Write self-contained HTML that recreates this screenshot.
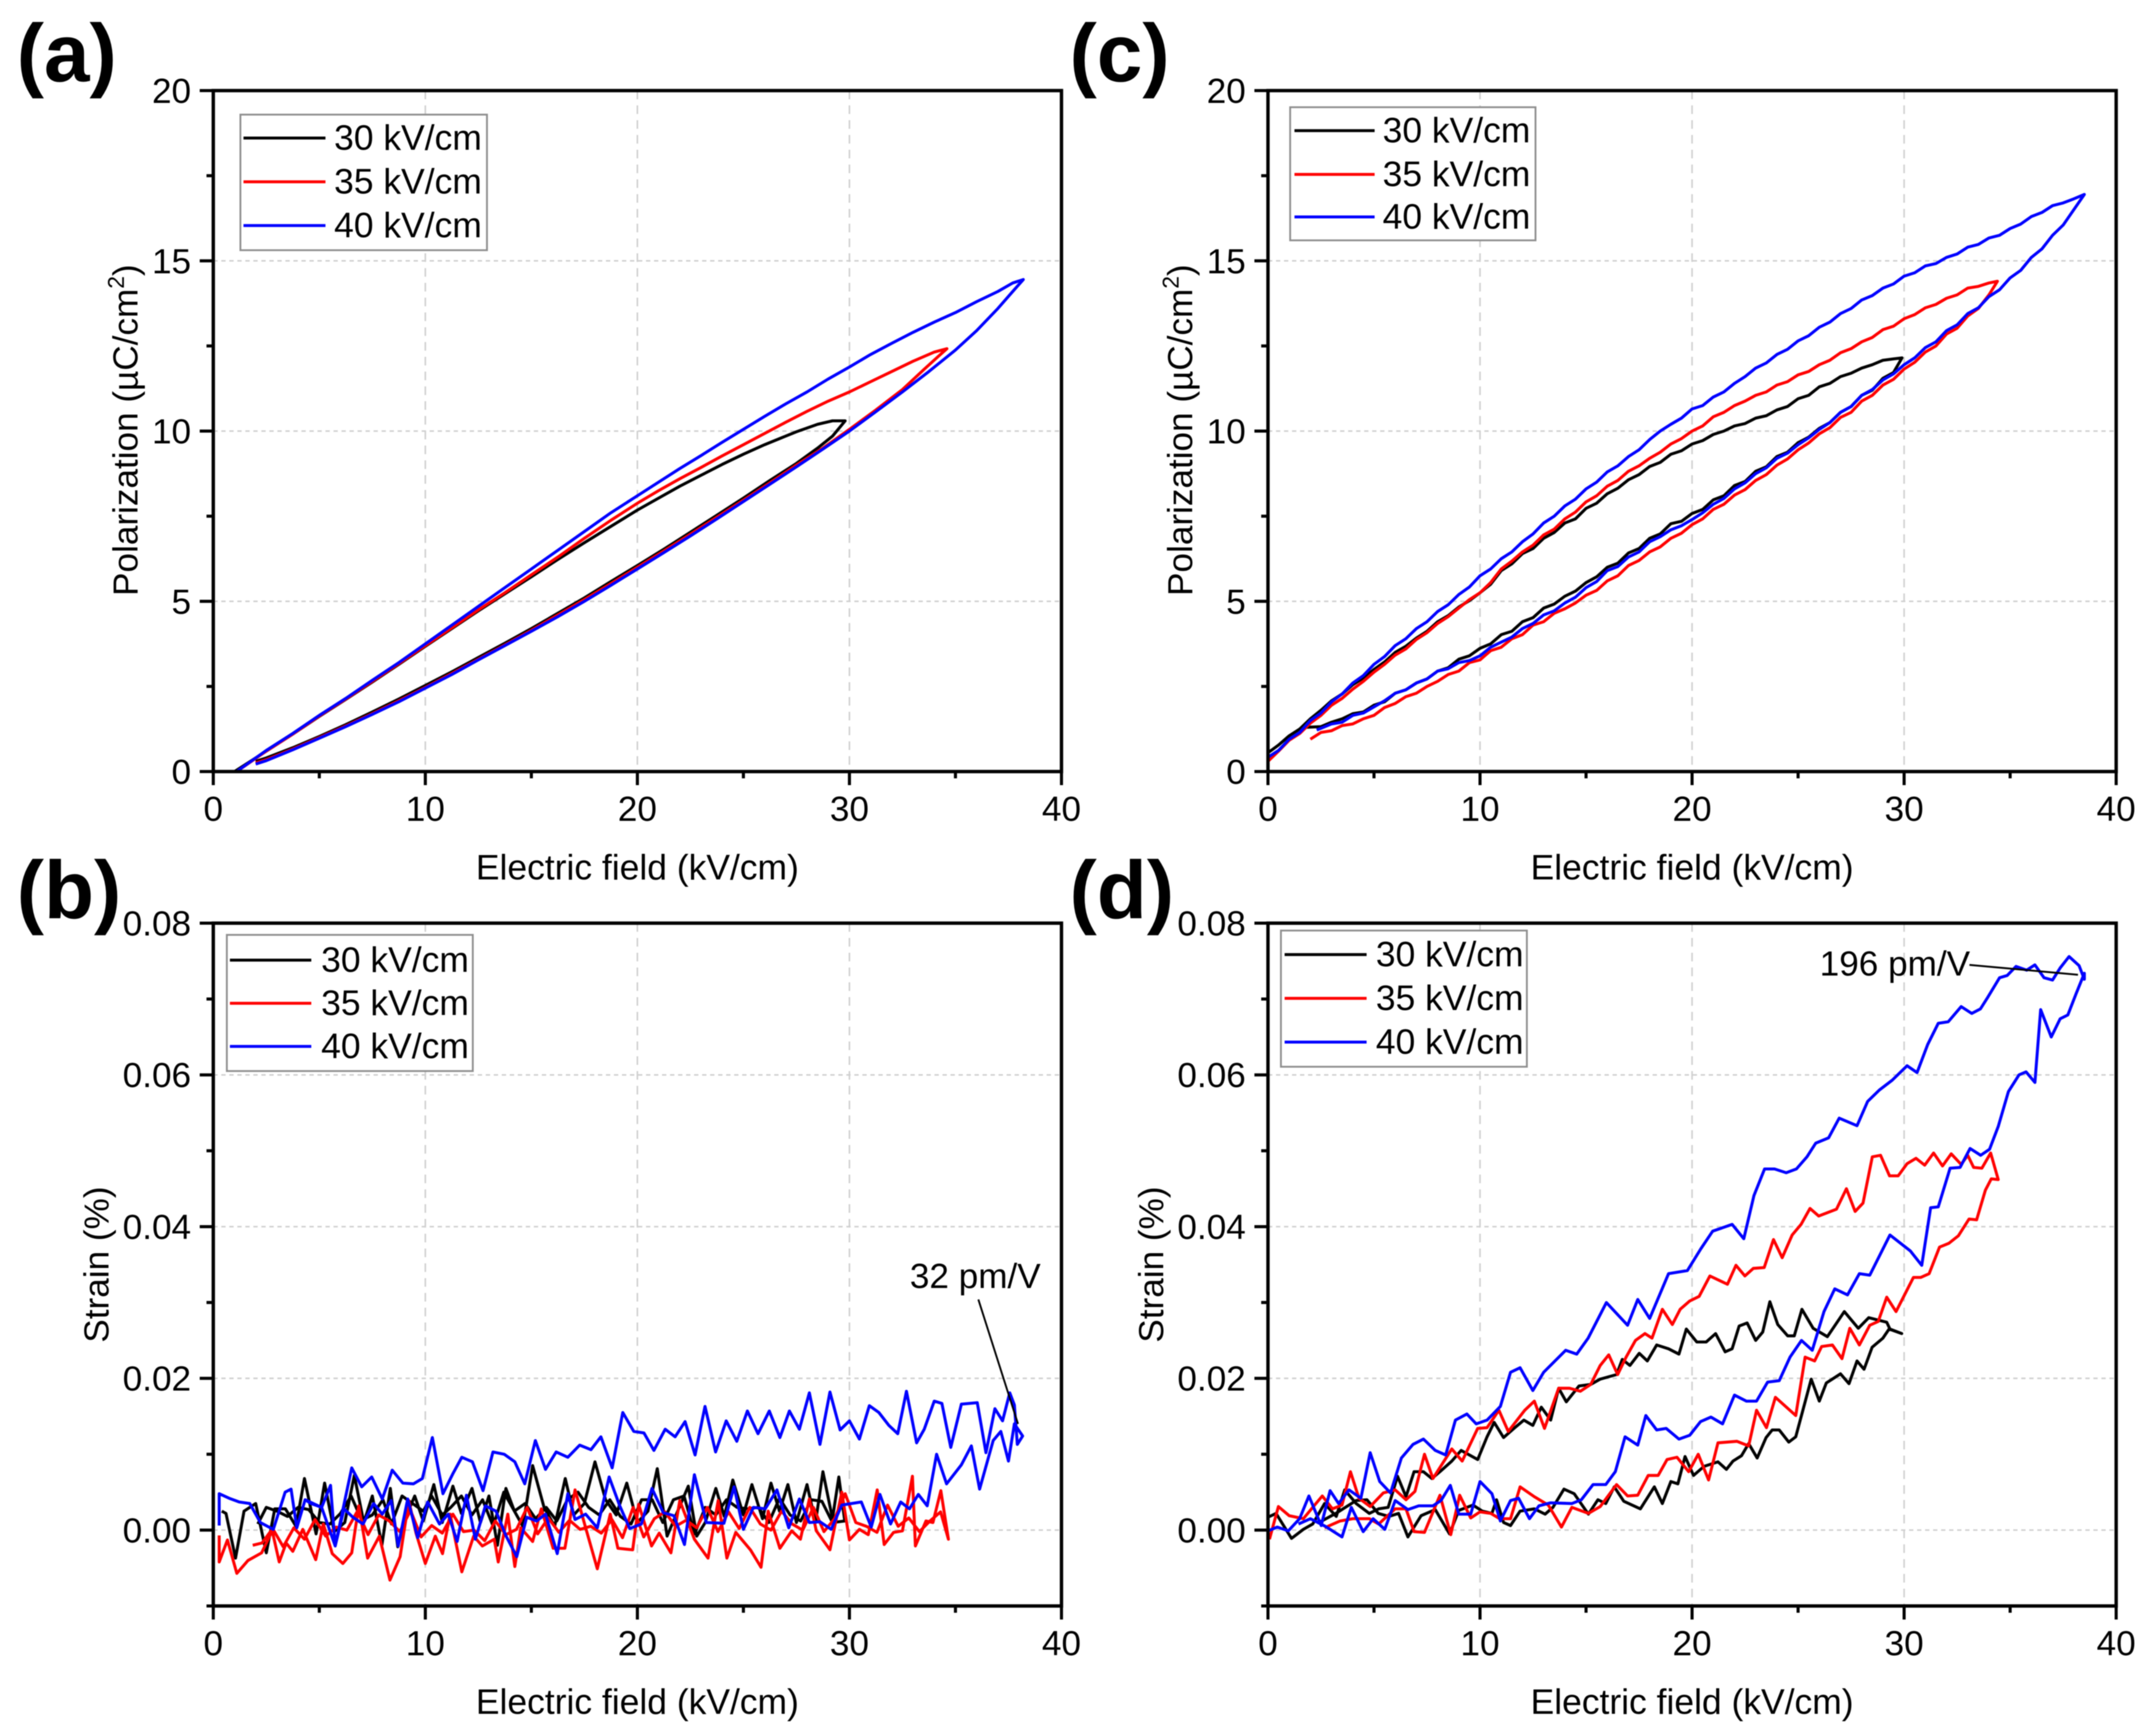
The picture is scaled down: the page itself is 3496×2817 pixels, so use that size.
<!DOCTYPE html>
<html lang="en">
<head>
<meta charset="utf-8">
<title>Polarization and strain versus electric field</title>
<style>
html,body{margin:0;padding:0;background:#fff;}
svg{display:block;filter:blur(0.8px);}
text{font-family:"Liberation Sans",Arial,sans-serif;fill:#000;}
</style>
</head>
<body>
<svg id="figure" xmlns="http://www.w3.org/2000/svg" width="3496" height="2817" viewBox="0 0 3496 2817">
<rect width="3496" height="2817" fill="#fff"/>
</svg>
<script>
/* ---------- shared axis data ---------- */
const fieldMajorTicks = [0,10,20,30,40];
const fieldMinorTicks = [5,15,25,35];
const polMajorTicks = [0,5,10,15,20];
const polMinorTicks = [2.5,7.5,12.5,17.5];
const strainMajorTicks = [0,0.02,0.04,0.06,0.08];
const strainMinorTicks = [-0.01,0.01,0.03,0.05,0.07];
const polTickLabels = ['0','5','10','15','20'];
const strainTickLabels = ['0.00','0.02','0.04','0.06','0.08'];
const fieldTickLabels = ['0','10','20','30','40'];
const legendLabels = ['30 kV/cm','35 kV/cm','40 kV/cm'];

/* ---------- panel (a) ---------- */
const aE30 = [2,2.5,3.75,5,6.25,7.5,8.75,10,11.25,12.5,13.75,15,16.25,17.5,18.75,20,21.25,22.5,23.75,25,26.25,27.5,28.5,29.2,29.8,29.2,28.5,27.5,26,25,24,23,22,21,20,18.75,17.5,16.25,15,13.75,12.5,11.25,10,8.75,7.5,6.25,5,3.75,2.5,1];
const aP30 = [.3,.4,.7,1.03,1.38,1.75,2.13,2.53,2.93,3.35,3.77,4.2,4.65,5.1,5.58,6.05,6.53,7.03,7.53,8.03,8.55,9.05,9.5,9.85,10.3,10.3,10.2,9.98,9.6,9.32,9.02,8.7,8.38,8.03,7.68,7.2,6.72,6.23,5.72,5.22,4.72,4.2,3.68,3.15,2.63,2.12,1.62,1.1,.6,0];
const aE35 = [2,2.5,3.75,5,6.25,7.5,8.75,10,11.25,12.5,13.75,15,16.25,17.5,18.75,20,21.25,22.5,23.75,25,26.25,27.5,28.75,30,31.25,32.5,33.5,34.2,34.6,34,33,32,31,30,29,28,27,26,25,24,23,22,21,20,18.75,17.5,16.25,15,13.75,12.5,11.25,10,8.75,7.5,6.25,5,3.75,2.5,1.1];
const aP35 = [.25,.35,.66,1,1.34,1.7,2.08,2.47,2.88,3.3,3.72,4.15,4.6,5.05,5.52,6,6.48,6.97,7.47,7.97,8.48,9,9.5,10.05,10.62,11.22,11.8,12.2,12.42,12.32,12.05,11.75,11.45,11.15,10.88,10.58,10.26,9.93,9.6,9.27,8.93,8.6,8.25,7.88,7.38,6.85,6.3,5.78,5.25,4.75,4.22,3.7,3.17,2.65,2.13,1.63,1.1,.6,0];
const aE40 = [2,2.5,3.75,5,6.25,7.5,8.75,10,11.25,12.5,13.75,15,16.25,17.5,18.75,20,21.25,22.5,23.75,25,26.25,27.5,28.75,30,31.25,32.5,33.75,35,36,37,37.7,38.2,37.7,37,36,35,34,33,32,31,30,29,28,27,26,25,24,23,22,21,20,18.75,17.5,16.25,15,13.75,12.5,11.25,10,8.75,7.5,6.25,5,3.75,2.5,1.1];
const aP40 = [.22,.32,.64,.98,1.32,1.68,2.05,2.45,2.85,3.28,3.7,4.12,4.55,5,5.47,5.95,6.43,6.92,7.42,7.93,8.44,8.95,9.47,10,10.57,11.15,11.75,12.38,12.95,13.6,14.1,14.45,14.35,14.1,13.8,13.48,13.2,12.9,12.58,12.25,11.88,11.53,11.15,10.8,10.43,10.05,9.67,9.28,8.9,8.5,8.1,7.6,7.05,6.5,5.95,5.4,4.85,4.3,3.75,3.2,2.68,2.15,1.65,1.12,.62,0];

/* ---------- panel (c) ---------- */
const cE30 = [1.8,2.5,3,3.5,4,4.5,5,5.5,6,6.5,7,7.5,8,8.5,9,9.5,10,10.5,11,11.5,12,12.5,13,13.5,14,14.5,15,15.5,16,16.5,17,17.5,18,18.5,19,19.5,20,20.5,21,21.5,22,22.5,23,23.5,24,24.5,25,25.5,26,26.5,27,27.5,28,28.5,29,29.5,29.9,29.5,29,28.5,28,27.5,27,26.5,26,25.5,25,24.5,24,23.5,23,22.5,22,21.5,21,20.5,20,19.5,19,18.5,18,17.5,17,16.5,16,15.5,15,14.5,14,13.5,13,12.5,12,11.5,11,10.5,10,9.5,9,8.5,8,7.5,7,6.5,6,5.5,5,4.5,4,3.5,3,2.5,2,1.5,1,.5,0];
const cP30 = [1.3,1.32,1.45,1.55,1.7,1.75,1.95,2.05,2.3,2.4,2.6,2.72,2.95,3.05,3.3,3.4,3.62,3.75,4.02,4.12,4.4,4.52,4.8,4.92,5.15,5.3,5.55,5.72,6,6.12,6.42,6.55,6.85,6.98,7.28,7.35,7.58,7.7,7.98,8.1,8.4,8.52,8.82,8.95,9.25,9.38,9.66,9.82,10.08,10.25,10.55,10.72,11.05,11.2,11.55,11.72,12.15,12.12,12.08,11.95,11.85,11.7,11.6,11.4,11.3,11.05,10.95,10.72,10.62,10.45,10.38,10.22,10.15,10.0,9.9,9.72,9.62,9.42,9.32,9.08,8.96,8.72,8.57,8.32,8.16,7.88,7.73,7.42,7.3,7.02,6.85,6.55,6.4,6.1,5.9,5.5,5.25,5.02,4.83,4.58,4.4,4.12,3.92,3.68,3.5,3.22,3.0,2.75,2.55,2.28,2.08,1.8,1.55,1.25,1.05,.78,.55];
const cE35 = [2,2.5,3,3.5,4,4.5,5,5.5,6,6.5,7,7.5,8,8.5,9,9.5,10,10.5,11,11.5,12,12.5,13,13.5,14,14.5,15,15.5,16,16.5,17,17.5,18,18.5,19,19.5,20,20.5,21,21.5,22,22.5,23,23.5,24,24.5,25,25.5,26,26.5,27,27.5,28,28.5,29,29.5,30,30.5,31,31.5,32,32.5,33,33.5,34,34.4,34,33.5,33,32.5,32,31.5,31,30.5,30,29.5,29,28.5,28,27.5,27,26.5,26,25.5,25,24.5,24,23.5,23,22.5,22,21.5,21,20.5,20,19.5,19,18.5,18,17.5,17,16.5,16,15.5,15,14.5,14,13.5,13,12.5,12,11.5,11,10.5,10,9.5,9,8.5,8,7.5,7,6.5,6,5.5,5,4.5,4,3.5,3,2.5,2,1.5,1,.5,0];
const cP35 = [.95,1.15,1.2,1.35,1.4,1.55,1.65,1.88,2,2.2,2.3,2.5,2.65,2.85,2.95,3.2,3.28,3.55,3.65,3.9,4.02,4.3,4.4,4.65,4.78,4.95,5.18,5.32,5.6,5.75,6.05,6.2,6.45,6.6,6.85,7.0,7.25,7.42,7.7,7.85,8.12,8.28,8.55,8.72,9.0,9.18,9.45,9.65,9.92,10.1,10.4,10.55,10.88,11.05,11.35,11.52,11.82,12.02,12.32,12.5,12.85,13.02,13.38,13.6,14.0,14.4,14.35,14.25,14.2,14.0,13.9,13.72,13.62,13.42,13.3,13.08,12.98,12.75,12.62,12.42,12.3,12.08,11.95,11.75,11.65,11.45,11.35,11.15,11.05,10.88,10.75,10.55,10.42,10.15,10,9.78,9.62,9.38,9.2,8.98,8.82,8.55,8.38,8.1,7.92,7.62,7.42,7.12,6.95,6.65,6.45,6.18,5.95,5.55,5.25,5.05,4.8,4.55,4.35,4.08,3.88,3.6,3.42,3.15,2.92,2.65,2.42,2.15,1.95,1.65,1.42,1.12,.92,.6,.3];
const cE40 = [2.3,3,3.5,4,4.5,5,5.5,6,6.5,7,7.5,8,8.5,9,9.5,10,10.5,11,11.5,12,12.5,13,13.5,14,14.5,15,15.5,16,16.5,17,17.5,18,18.5,19,19.5,20,20.5,21,21.5,22,22.5,23,23.5,24,24.5,25,25.5,26,26.5,27,27.5,28,28.5,29,29.5,30,30.5,31,31.5,32,32.5,33,33.5,34,34.5,35,35.5,36,36.5,37,37.5,38,38.5,38,37.5,37,36.5,36,35.5,35,34.5,34,33.5,33,32.5,32,31.5,31,30.5,30,29.5,29,28.5,28,27.5,27,26.5,26,25.5,25,24.5,24,23.5,23,22.5,22,21.5,21,20.5,20,19.5,19,18.5,18,17.5,17,16.5,16,15.5,15,14.5,14,13.5,13,12.5,12,11.5,11,10.5,10,9.5,9,8.5,8,7.5,7,6.5,6,5.5,5,4.5,4,3.5,3,2.5,2,1.5,1,.5,0];
const cP40 = [1.22,1.4,1.45,1.65,1.72,1.9,2.08,2.3,2.4,2.6,2.72,2.95,3.02,3.2,3.26,3.4,3.65,3.8,3.95,4.2,4.35,4.6,4.72,4.95,5.12,5.4,5.58,5.9,6.02,6.3,6.45,6.75,6.9,7.1,7.22,7.4,7.6,7.85,8.02,8.3,8.48,8.75,8.92,9.2,9.35,9.6,9.8,10.05,10.25,10.55,10.72,11.05,11.22,11.5,11.68,11.95,12.15,12.45,12.62,12.95,13.12,13.45,13.62,13.95,14.15,14.5,14.72,15.1,15.35,15.75,16.05,16.5,16.95,16.82,16.7,16.62,16.42,16.3,16.08,15.95,15.75,15.67,15.48,15.4,15.2,15.1,14.92,14.85,14.65,14.55,14.32,14.2,13.98,13.85,13.6,13.45,13.2,13.05,12.8,12.65,12.4,12.25,12,11.85,11.6,11.4,11.15,11,10.75,10.65,10.38,10.2,10,9.75,9.45,9.25,8.98,8.8,8.5,8.3,8,7.8,7.5,7.3,6.98,6.75,6.45,6.25,5.95,5.75,5.42,5.2,4.9,4.7,4.4,4.2,3.9,3.7,3.38,3.15,2.82,2.6,2.28,2.05,1.72,1.5,1.15,.95,.62,.42];

/* ---------- panel (b) ---------- */
const bE30Fwd = [2.1,2.5,3,3.5,4,4.5,5,5.5,6,6.5,7,7.5,8,8.4,8.9,9.4,9.9,10.3,10.8,11.2,11.7,12.2,12.7,13.2,13.7,14.2,14.7,15.2,15.7,16.2,16.7,17.2,17.7,18.2,18.7,19.2,19.7,20.2,20.7,21.2,21.7,22.2,22.7,23.2,23.7,24.2,24.7,25.2,25.7,26.2,26.7,27.2,27.7,28.2,28.7,29.2,29.78];
const bS30Fwd = [.0008,.0030,.0025,.0018,.0030,.0027,.0010,.0008,.0022,.0045,.0013,.0020,.0040,.0008,.0045,.0035,.0025,.0045,.0020,.0030,.0045,.0020,.0040,.0005,.0050,.0025,.0035,.0015,.0030,.0012,.0040,.0050,.0030,.0020,.0040,.0018,.0008,.0040,.0040,.0010,.0040,.0045,-.0005,.0030,.0020,.0040,.0030,.0028,.0030,.0010,.0042,.0020,.0012,.0040,.0038,.0010,.0012];
const bE30Ret = [29.5,29.2,28.75,28.4,28,27.5,27.1,26.7,26.3,25.9,25.4,25,24.5,24.1,23.7,23.2,22.8,22.4,21.9,21.4,20.94,20.5,20,19.5,19,18.5,18,17.5,17,16.6,16.1,15.6,15.06,14.6,14.2,13.8,13.4,13,12.6,12.2,11.7,11.3,10.8,10.4,9.9,9.5,9,8.7,8.35,7.95,7.5,7.1,6.65,6.2,5.7,5.25,4.85,4.3,3.9,3.4,2.9,2.5,2,1.45,1.05,.6,.4];
const bS30Ret = [.0070,.0015,.0077,.0010,.0060,.0010,.0060,.0025,.0062,.0015,.0060,.0020,.0066,.0018,.0055,.0010,-.0008,.0058,.0025,-.0008,.0081,.0025,.0010,.0062,.0020,.0040,.0090,.0035,.0020,.0068,.0005,.0030,.0085,.0005,.0025,.0055,-.0020,.0045,.0010,.0055,.0022,.0058,.0010,.0060,.0012,.0045,.0012,-.0022,.0055,-.0020,.0045,.0010,.0072,.0010,-.0002,.0062,-.0005,.0068,.0005,.0028,.0028,-.0030,.0035,.0025,-.0037,.0022,.0025];
const bE35Fwd = [1.86,2.3,2.8,3.3,3.8,4.3,4.8,5.3,5.8,6.3,6.8,7.3,7.8,8.3,8.8,9.3,9.8,10.3,10.8,11.3,11.8,12.3,12.8,13.3,13.8,14.3,14.8,15.3,15.8,16.3,16.8,17.3,17.8,18.3,18.8,19.3,19.8,20.3,20.8,21.3,21.8,22.3,22.8,23.3,23.8,24.3,24.8,25.3,25.8,26.3,26.8,27.3,27.8,28.3,28.8,29.3,29.8,30.3,30.8,31.3,31.8,32.3,32.8,33.3,33.8,34.3,34.67];
const bS35Fwd = [-.0020,-.0017,.0002,-.0022,.0003,-.0012,.0014,-.0008,.0004,.0000,.0025,-.0006,.0020,.0012,-.0002,.0026,-.0009,.0006,-.0004,.0021,-.0002,.0000,-.0014,.0012,-.0006,.0001,.0030,-.0005,.0016,-.0003,.0013,.0001,.0005,-.0004,.0014,-.0010,.0030,-.0009,.0015,.0024,.0005,.0013,.0003,.0030,-.0002,.0024,.0002,.0030,.0008,.0000,.0025,.0008,.0000,.0030,-.0002,.0015,.0048,.0010,.0005,-.0003,.0033,.0005,.0016,-.0002,.0012,.0024,-.0012];
const bE35Ret = [34.31,33.94,33.61,33.11,32.97,32.5,32.08,31.64,31.31,30.89,30.47,30,29.64,29.08,28.44,28.11,27.69,27.28,26.72,26.17,25.83,25.33,24.64,24.22,23.81,23.33,22.69,22,21.58,21.03,20.67,20.06,19.78,19.08,18.72,18.11,17.56,17.06,16.58,16.03,15.47,15.06,14.5,14.22,13.89,13.44,13.25,12.69,12.28,11.72,11.17,10.81,10.47,10,9.56,9.22,8.81,8.33,7.83,7.28,6.86,6.53,6.11,5.61,5.19,4.83,4.22,3.75,3.44,3.11,2.78,2.28,1.64,1.11,.67,.28,.28];
const bS35Ret = [.0052,.0010,.0012,-.0021,.0071,-.0001,-.0003,-.0019,.0053,-.0006,.0001,-.0013,.0050,-.0026,-.0001,.0041,-.0012,-.0001,-.0024,.0025,-.0049,-.0026,-.0003,-.0037,.0039,-.0037,-.0012,.0039,-.0030,-.0004,-.0021,.0034,-.0026,-.0024,.0021,-.0051,.0003,.0053,-.0024,-.0024,.0028,-.0015,.0003,-.0048,.0021,-.0042,-.0012,-.0021,-.0008,-.0055,.0021,-.0031,-.0008,-.0044,-.0004,.0039,-.0035,-.0066,-.0008,-.0037,.0032,-.0030,-.0044,-.0031,.0008,-.0039,.0001,-.0028,-.0017,-.0042,-.0001,-.0030,-.0040,-.0057,-.0013,-.0042,-.0007];
const bE40Fwd = [3.94,4.33,5.11,5.75,6.17,6.58,7.06,7.56,7.97,8.39,8.72,9.17,9.64,10.11,10.67,11.08,11.5,11.94,12.36,12.83,13.33,13.81,14.31,14.78,15.25,15.67,16.22,16.72,17.06,17.56,18.11,18.67,19.17,19.64,20.19,20.69,21.22,21.72,22.22,22.69,23.25,24.08,24.56,25,25.47,26.03,26.58,27.14,27.64,28.11,28.61,29.14,29.64,30.56,31.03,31.44,31.94,32.42,32.83,33.25,33.67,34.11,34.58,35.28,35.75,36.14,36.78,37.14,37.5,37.78,38.17];
const bS40Fwd = [.0003,.0040,.0030,-.0021,.0028,.0017,.0008,.0035,.0021,.0039,-.0021,.0041,-.0010,.0037,.0008,.0021,-.0015,.0046,-.0012,.0032,.0025,-.0008,-.0035,.0017,.0012,.0021,-.0031,.0048,.0014,.0021,.0003,.0070,.0032,.0002,.0008,.0055,.0023,.0019,-.0019,.0073,.0010,.0009,.0057,.0001,.0030,.0028,.0053,.0003,.0041,.0010,.0011,.0001,.0033,.0037,.0004,.0047,.0008,.0037,.0028,.0047,.0032,.0100,.0061,.0086,.0111,.0054,.0118,.0130,.0091,.0140,.0124];
const bE40Ret = [37.92,37.78,37.56,37.22,36.86,36.44,36.03,35.28,34.78,34.36,34,33.53,33.17,32.69,32.28,31.86,31.39,30.94,30.47,30,29.56,29.08,28.61,28.11,27.64,27.17,26.72,26.22,25.69,25.19,24.69,24.19,23.69,23.19,22.72,22.25,21.78,21.31,20.78,20.31,19.83,19.31,18.81,18.28,17.81,17.28,16.72,16.17,15.67,15.19,14.69,14.22,13.72,13.19,12.72,12.22,11.72,11.31,10.83,10.33,9.86,9.44,8.94,8.44,7.97,7.47,7,6.53,6.08,5.75,5.53,5.11,4.61,4.33,3.94,3.67,3.39,2.83,2.22,1.72,1.22,.75,.28,.28];
const bS40Ret = [.0113,.0165,.0181,.0144,.0160,.0102,.0168,.0166,.0109,.0167,.0170,.0133,.0115,.0183,.0127,.0138,.0155,.0164,.0120,.0144,.0132,.0182,.0113,.0181,.0133,.0157,.0122,.0157,.0127,.0157,.0117,.0144,.0103,.0163,.0099,.0143,.0123,.0133,.0105,.0128,.0130,.0155,.0082,.0123,.0106,.0112,.0096,.0103,.0080,.0118,.0061,.0090,.0100,.0103,.0052,.0090,.0096,.0075,.0048,.0122,.0068,.0061,.0062,.0079,.0041,.0070,.0057,.0082,.0023,-.0021,.0059,.0030,.0035,.0040,.0003,.0054,.0050,.0001,.0010,.0035,.0037,.0042,.0048,.0006];

/* ---------- panel (d) ---------- */
const dE30Fwd = [2.4,3.2,4.16,4.67,5.2,5.7,6.16,6.6,7.22,7.89,8.56,9,9.67,10.11,10.56,10.78,11.11,11.44,11.89,12.56,13.07,13.44,13.96,14.44,15.11,15.56,15.93,16.33,16.78,17.56,18.22,18.6,19,19.33,19.67,20.07,20.56,21.22,21.62,21.93,22.33,22.67,23.07,23.49,23.78,24.11,24.56,24.89,25.62,26,26.33,27,27.4,27.78,28.11,28.49,29,29.29,29.89];
const dS30Fwd = [.0010,.0022,.0039,.0040,.0022,.0018,.0022,-.0009,.0019,.0027,-.0005,.0026,.0033,.0025,.0022,.0040,.0010,.0006,.0025,.0028,.0021,.0030,.0054,.0048,.0021,.0040,.0035,.0057,.0038,.0028,.0057,.0035,.0064,.0061,.0097,.0072,.0084,.0090,.0080,.0091,.0098,.0114,.0095,.0122,.0132,.0132,.0116,.0123,.0199,.0170,.0194,.0206,.0193,.0223,.0212,.0241,.0253,.0265,.0259];
const dE30Ret = [29.33,29.18,28.33,27.84,27.18,26.38,25.71,25.18,24.82,24.51,24.04,23.67,23.33,23,22.6,22.22,21.89,21.56,21.11,20.67,20.22,19.73,19.38,18.89,18.33,17.89,17.51,17.07,16.71,16.44,15.67,15.22,14.67,14.07,13.71,13.33,12.89,12.49,12.07,11.6,11.11,10.67,10.33,9.89,9.11,8.67,8.11,7.73,7.33,6.89,6.51,6.11,5.67,5.22,4.78,4.16,3.62,3.22,2.67,2.11,1.67,1.11,.38,0];
const dS30Ret = [.0265,.0274,.0280,.0266,.0288,.0255,.0266,.0291,.0256,.0256,.0271,.0301,.0261,.0250,.0273,.0269,.0239,.0235,.0259,.0248,.0248,.0265,.0232,.0239,.0244,.0223,.0233,.0217,.0225,.0205,.0199,.0192,.0190,.0169,.0187,.0145,.0162,.0138,.0145,.0134,.0122,.0142,.0123,.0093,.0105,.0091,.0077,.0068,.0077,.0077,.0044,.0071,.0030,.0028,.0022,.0035,.0053,.0018,.0035,.0008,.0001,-.0011,.0022,.0017];
const dE35Fwd = [2.67,3.4,4,4.78,5.22,6,6.51,6.89,7.38,8.11,8.62,9.04,9.56,10,10.51,10.93,11.44,11.89,12.56,13.22,13.84,14.33,15.11,15.67,16.44,16.96,17.44,17.93,18.4,18.82,19.29,19.84,20.29,20.78,21.22,22.11,22.67,23.04,23.51,23.93,24.89,25.33,25.78,26.11,26.62,27.07,27.44,27.89,28.38,28.78,29.18,29.62,30.44,30.78,31.18,31.67,32.11,32.56,33.06,33.42,33.83,34.11,34.44];
const dS35Fwd = [.0003,.0012,.0015,.0015,.0008,.0028,.0028,-.0002,-.0003,.0046,-.0006,.0046,.0016,.0024,.0022,.0015,.0015,.0057,.0044,.0033,.0004,.0030,.0022,.0031,.0060,.0045,.0046,.0072,.0072,.0093,.0096,.0077,.0100,.0066,.0115,.0117,.0111,.0158,.0135,.0175,.0151,.0228,.0223,.0242,.0244,.0226,.0266,.0244,.0270,.0275,.0307,.0288,.0333,.0333,.0338,.0373,.0378,.0388,.0410,.0409,.0448,.0463,.0462];
const dE35Ret = [34.08,33.67,33.28,33,32.69,32.22,31.81,31.39,30.97,30.56,30.14,29.72,29.31,28.89,28.5,28.06,27.69,27.28,26.81,25.97,25.56,25.14,24.72,24.25,23.84,23.4,22.89,22.49,22.07,21.67,20.84,20.33,19.89,19.44,19.07,18.6,18.11,17.78,17.33,16.89,16.49,16.07,15.67,15.22,14.73,14.22,13.71,13.04,12.56,12.11,11.33,10.89,10.33,9.89,9.16,8.67,7.78,7.38,6.93,6.51,6,5.44,4.82,4.29,3.89,3.49,3.04,2.56,2.11,1.67,1,.49,.07];
const dS35Ret = [.0497,.0477,.0478,.0494,.0482,.0496,.0480,.0497,.0481,.0490,.0483,.0467,.0467,.0494,.0492,.0431,.0420,.0450,.0423,.0414,.0424,.0403,.0389,.0359,.0383,.0346,.0345,.0335,.0349,.0324,.0335,.0308,.0302,.0291,.0271,.0291,.0253,.0259,.0250,.0228,.0205,.0231,.0217,.0192,.0183,.0187,.0187,.0134,.0170,.0158,.0130,.0158,.0135,.0134,.0091,.0107,.0068,.0100,.0051,.0040,.0053,.0049,.0031,.0042,.0077,.0033,.0028,.0045,.0030,.0015,.0019,.0031,-.0012];
const dE40Fwd = [1.44,2,2.7,3.49,3.93,4.49,4.96,5.51,6,6.6,7.11,7.78,8.16,8.6,9,9.56,10,10.56,10.96,11.44,11.82,12.33,12.78,13.33,14.33,14.78,15.33,15.93,16.38,16.84,17.44,17.82,18.33,18.78,19.38,19.89,20.4,20.89,21.44,22,22.56,23.04,23.56,24.11,24.62,25.16,25.67,26.22,26.73,27.33,27.89,28.38,29.33,30.29,30.83,31.25,31.61,32.17,32.64,33.11,33.61,34.03,34.44,34.92,35.42,35.75,36.17,36.44,36.94,37.36,37.72,38.11,38.5];
const dS40Fwd = [.0008,.0015,.0005,-.0009,.0030,-.0002,.0015,.0001,.0039,.0027,.0032,.0032,.0039,.0059,.0021,.0021,.0064,.0048,.0012,.0039,.0042,.0015,.0032,.0036,.0035,.0040,.0060,.0060,.0077,.0123,.0112,.0151,.0132,.0134,.0120,.0125,.0143,.0149,.0140,.0178,.0170,.0170,.0195,.0197,.0228,.0250,.0237,.0288,.0318,.0310,.0338,.0336,.0389,.0368,.0349,.0425,.0426,.0477,.0478,.0503,.0494,.0502,.0532,.0578,.0600,.0604,.0590,.0686,.0650,.0674,.0679,.0707,.0734];
const dE40Ret = [38.5,38.25,37.78,37.36,37,36.6,36.17,35.78,35.28,34.86,34.5,33.94,33.6,33.19,32.69,32.08,31.61,31.11,30.61,30.14,29.44,28.83,28.28,27.78,26.94,26.44,25.83,25.42,24.92,24.44,23.89,23.42,22.92,22.44,21.89,20.97,20.42,19.78,18.89,18,17.44,16.96,15.96,15.1,14.56,14.04,13,12.49,11.89,11.44,10.96,10.33,9.82,9.38,8.84,8.38,7.89,7.33,6.84,6.29,5.78,5.27,4.82,4.38,3.82,3.33,2.93,2.51,1.93,1.49,.96,.44,0];
const dS40Ret = [.0726,.0744,.0756,.0741,.0725,.0728,.0745,.0738,.0743,.0731,.0728,.0702,.0687,.0681,.0690,.0670,.0668,.0640,.0603,.0612,.0593,.0580,.0565,.0533,.0543,.0517,.0510,.0492,.0476,.0471,.0476,.0476,.0441,.0384,.0403,.0394,.0371,.0342,.0338,.0279,.0304,.0270,.0300,.0253,.0232,.0237,.0208,.0184,.0214,.0208,.0163,.0145,.0140,.0153,.0145,.0099,.0105,.0120,.0113,.0095,.0049,.0064,.0102,.0042,.0053,.0035,.0052,.0006,.0045,.0015,-.0001,.0004,-.0001];

/* ---------- annotation leader values (field, strain) ---------- */
const leaderBE = [36.08,37.95];
const leaderBS = [.0304,.0140];
const leaderDE = [33.08,38.2];
const leaderDS = [.0745,.0732];

/* ---------- drawing ---------- */
const NS = 'http://www.w3.org/2000/svg';
const root = document.getElementById('figure');
const COLORS = ['#000000','#ff0000','#0000ff'];
const FIELD_MIN = 0, FIELD_MAX = 40;

function make(tag, attrs, parent) {
  const el = document.createElementNS(NS, tag);
  for (const k in attrs) el.setAttribute(k, attrs[k]);
  (parent || root).appendChild(el);
  return el;
}

function drawPanel(p) {
  const g = make('g', {});
  
  

  const xScale = v => p.left + (v - FIELD_MIN) / (FIELD_MAX - FIELD_MIN) * (p.right - p.left);
  const yScale = v => p.bottom - (v - p.yMin) / (p.yMax - p.yMin) * (p.bottom - p.top);

  /* grid */
  fieldMajorTicks.slice(1, -1).forEach(t => {
    const ln = make('line', {x1:xScale(t), x2:xScale(t), y1:p.top, y2:p.bottom, stroke:'#cfcfcf', 'stroke-width':2.5, 'stroke-dasharray':'14 10'}, g);
    
    
  });
  p.yMajor.forEach(t => {
    if (t === p.yMin || t === p.yMax) return;
    const ln = make('line', {x1:p.left, x2:p.right, y1:yScale(t), y2:yScale(t), stroke:'#cfcfcf', 'stroke-width':2.5, 'stroke-dasharray':'7 6'}, g);
    
    
  });

  /* series */
  p.series.forEach((s, i) => {
    const n = Math.min(s.x.length, s.y.length);
    const pts = [];
    for (let k = 0; k < n; k++) pts.push(xScale(s.x[k]).toFixed(1) + ',' + yScale(s.y[k]).toFixed(1));
    const line = make('polyline', {points:pts.join(' '), fill:'none', stroke:COLORS[i], 'stroke-width':4.8, 'stroke-linejoin':'round'}, g);
    
    
  });

  /* annotation */
  if (p.note) {
    const lead = make('line', {x1:xScale(p.note.x[0]), y1:yScale(p.note.y[0]), x2:xScale(p.note.x[1]), y2:yScale(p.note.y[1]), stroke:'#000', 'stroke-width':3}, g);
    
    
    const nt = make('text', {x:p.note.tx, y:p.note.ty, 'font-size':57}, g);
    nt.textContent = p.note.text;
    
    
  }

  /* frame */
  const frame = make('rect', {x:p.left, y:p.top, width:p.right - p.left, height:p.bottom - p.top, fill:'none', stroke:'#000', 'stroke-width':5.5}, g);
  
  

  /* x ticks */
  fieldMajorTicks.forEach((t, i) => {
    const tk = make('line', {x1:xScale(t), x2:xScale(t), y1:p.bottom, y2:p.bottom + 22, stroke:'#000', 'stroke-width':5}, g);
    
    
    const lb = make('text', {x:xScale(t), y:p.bottom + 80, 'font-size':57, 'text-anchor':'middle'}, g);
    lb.textContent = fieldTickLabels[i];
    
    
  });
  fieldMinorTicks.forEach(t => {
    const tk = make('line', {x1:xScale(t), x2:xScale(t), y1:p.bottom, y2:p.bottom + 11, stroke:'#000', 'stroke-width':5}, g);
    
    
  });

  /* y ticks */
  p.yMajor.forEach((t, i) => {
    const tk = make('line', {x1:p.left - 22, x2:p.left, y1:yScale(t), y2:yScale(t), stroke:'#000', 'stroke-width':5}, g);
    
    
    const lb = make('text', {x:p.left - 36, y:yScale(t) + 20, 'font-size':57, 'text-anchor':'end'}, g);
    lb.textContent = p.yLabels[i];
    
    
  });
  p.yMinor.forEach(t => {
    const tk = make('line', {x1:p.left - 11, x2:p.left, y1:yScale(t), y2:yScale(t), stroke:'#000', 'stroke-width':5}, g);
    
    
  });

  /* axis titles */
  const xt = make('text', {x:(p.left + p.right) / 2, y:p.bottom + 175, 'font-size':57.5, 'text-anchor':'middle'}, g);
  xt.textContent = 'Electric field (kV/cm)';
  
  

  const yt = make('text', {transform:'translate(' + p.yTitleX + ',' + p.yTitleY + ') rotate(-90)', 'font-size':57, 'text-anchor':'middle'}, g);
  
  
  if (p.polar) {
    yt.appendChild(document.createTextNode('Polarization (\u00B5C/cm'));
    const sup = make('tspan', {dy:-22, 'font-size':37}, yt);
    sup.textContent = '2';
    const close = make('tspan', {dy:22}, yt);
    close.textContent = ')';
  } else {
    yt.textContent = 'Strain (%)';
  }

  /* legend */
  const lg = make('g', {}, g);
  
  
  const box = make('rect', {x:p.legend.x, y:p.legend.y, width:p.legend.w, height:p.legend.h, fill:'#fff', stroke:'#8f8f8f', 'stroke-width':3}, lg);
  
  
  legendLabels.forEach((lab, i) => {
    const ry = p.legend.rows[i];
    const sw = make('line', {x1:p.legend.lx1, x2:p.legend.lx2, y1:ry, y2:ry, stroke:COLORS[i], 'stroke-width':4.8}, lg);
    
    
    const tx = make('text', {x:p.legend.tx, y:ry + 19, 'font-size':57.5}, lg);
    tx.textContent = lab;
    
    
  });

  /* panel letter */
  const letter = make('text', {x:p.letterX, y:p.letterY, 'font-size':133, 'font-weight':'bold'}, g);
  letter.textContent = '(' + p.id + ')';
  
  
}

const TOP_T = 147, TOP_B = 1252, BOT_T = 1498, BOT_B = 2606;
const LEFT_L = 346, LEFT_R = 1722, RIGHT_L = 2057, RIGHT_R = 3433;

drawPanel({
  id:'a', polar:true, left:LEFT_L, right:LEFT_R, top:TOP_T, bottom:TOP_B, yMin:0, yMax:20,
  yMajor:polMajorTicks, yMinor:polMinorTicks, yLabels:polTickLabels, yTitleX:223, yTitleY:698,
  letterX:27, letterY:132,
  legend:{x:390, y:186, w:400, h:220, rows:[224,295,366], lx1:395, lx2:528, tx:542},
  series:[{x:aE30,y:aP30},{x:aE35,y:aP35},{x:aE40,y:aP40}]
});
drawPanel({
  id:'c', polar:true, left:RIGHT_L, right:RIGHT_R, top:TOP_T, bottom:TOP_B, yMin:0, yMax:20,
  yMajor:polMajorTicks, yMinor:polMinorTicks, yLabels:polTickLabels, yTitleX:1934, yTitleY:698,
  letterX:1735, letterY:132,
  legend:{x:2093, y:174, w:398, h:216, rows:[212,283,352], lx1:2100, lx2:2230, tx:2243},
  series:[{x:cE30,y:cP30},{x:cE35,y:cP35},{x:cE40,y:cP40}]
});
drawPanel({
  id:'b', polar:false, left:LEFT_L, right:LEFT_R, top:BOT_T, bottom:BOT_B, yMin:-0.01, yMax:0.08,
  yMajor:strainMajorTicks, yMinor:strainMinorTicks, yLabels:strainTickLabels, yTitleX:176, yTitleY:2052,
  letterX:27, letterY:1490,
  legend:{x:368, y:1517, w:399, h:221, rows:[1558,1628,1698], lx1:373, lx2:505, tx:521},
  note:{x:leaderBE, y:leaderBS, text:'32 pm/V', tx:1476, ty:2090},
  series:[{x:bE30Fwd.concat(bE30Ret),y:bS30Fwd.concat(bS30Ret)},{x:bE35Fwd.concat(bE35Ret),y:bS35Fwd.concat(bS35Ret)},{x:bE40Fwd.concat(bE40Ret),y:bS40Fwd.concat(bS40Ret)}]
});
drawPanel({
  id:'d', polar:false, left:RIGHT_L, right:RIGHT_R, top:BOT_T, bottom:BOT_B, yMin:-0.01, yMax:0.08,
  yMajor:strainMajorTicks, yMinor:strainMinorTicks, yLabels:strainTickLabels, yTitleX:1887, yTitleY:2052,
  letterX:1735, letterY:1490,
  legend:{x:2078, y:1510, w:399, h:221, rows:[1549,1620,1691], lx1:2084, lx2:2217, tx:2232},
  note:{x:leaderDE, y:leaderDS, text:'196 pm/V', tx:2952, ty:1583},
  series:[{x:dE30Fwd.concat(dE30Ret),y:dS30Fwd.concat(dS30Ret)},{x:dE35Fwd.concat(dE35Ret),y:dS35Fwd.concat(dS35Ret)},{x:dE40Fwd.concat(dE40Ret),y:dS40Fwd.concat(dS40Ret)}]
});
</script>
</body>
</html>
